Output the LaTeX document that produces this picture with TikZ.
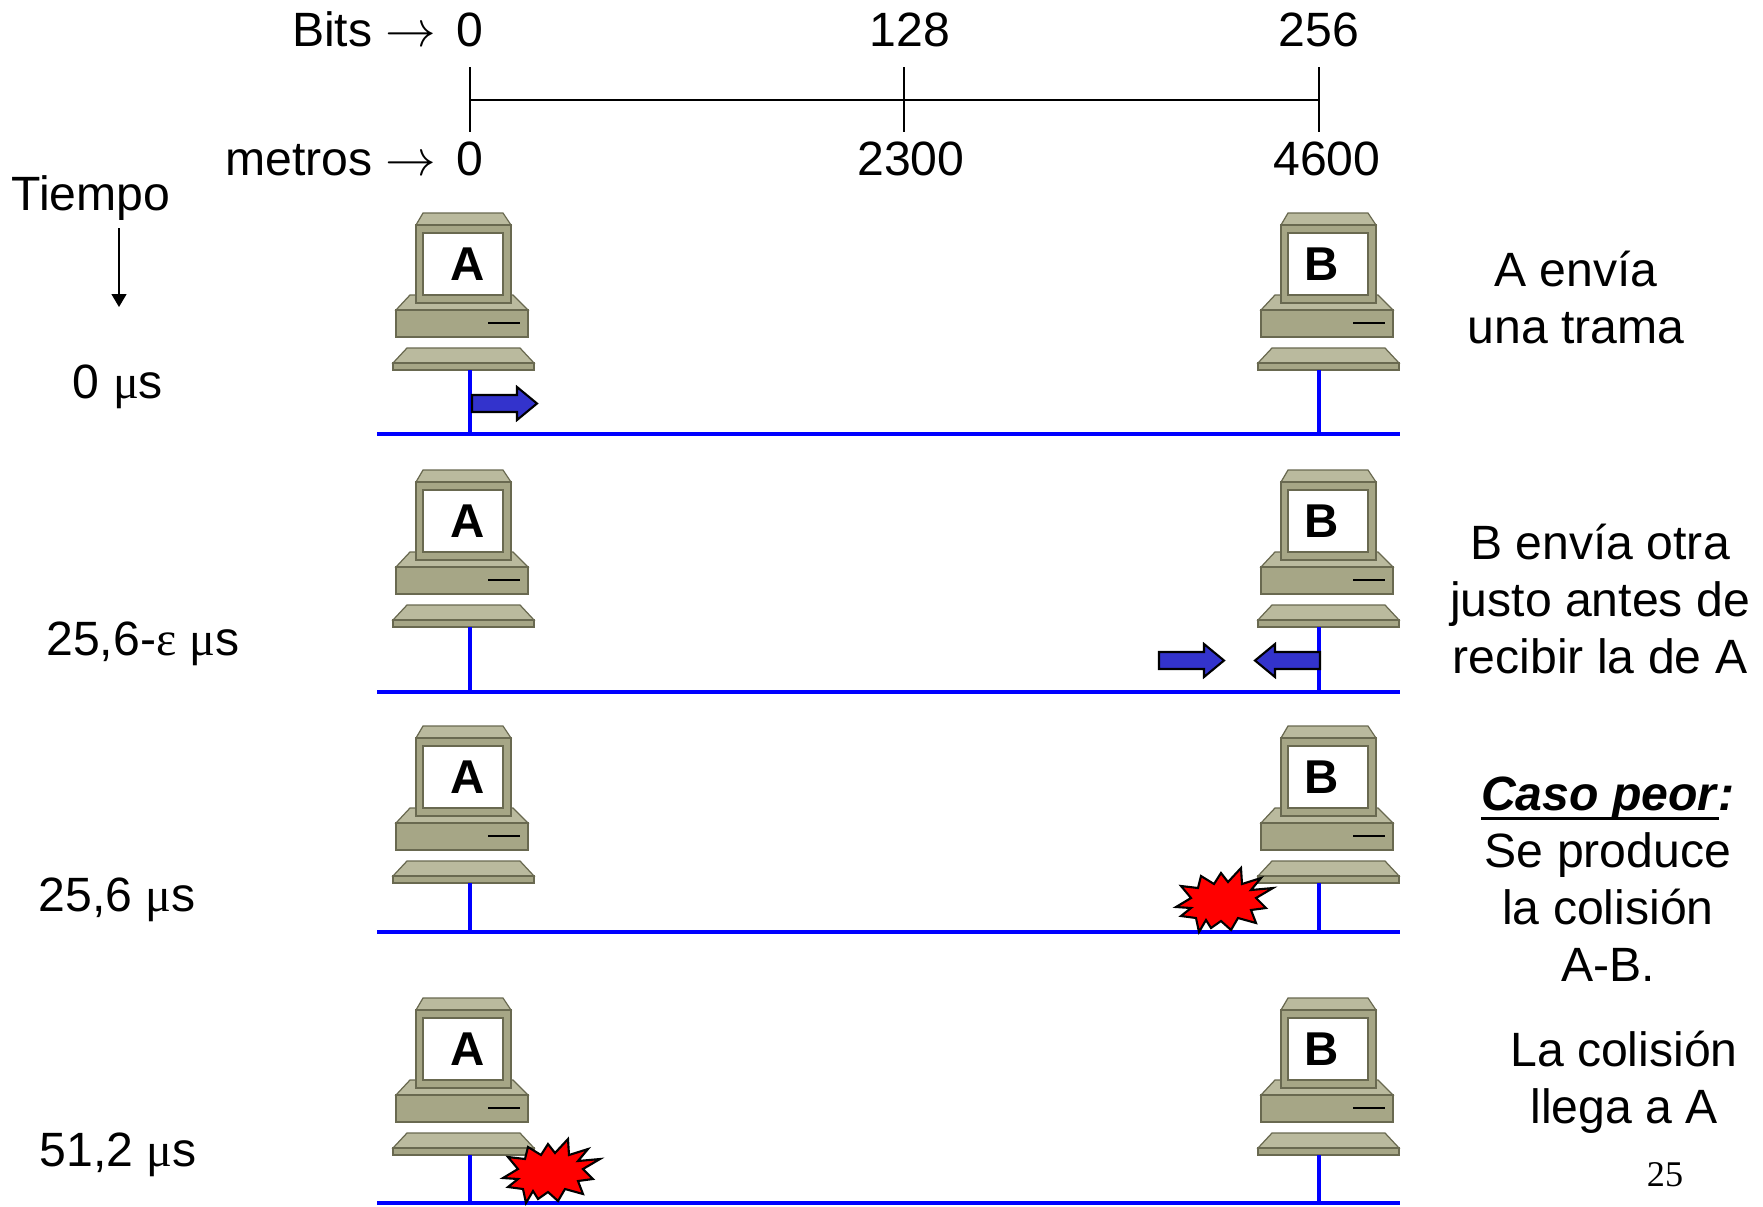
\documentclass[tikz,border=0pt]{standalone}
\usepackage{fontspec}
\setmainfont{Liberation Sans}
\newfontfamily\grk{Liberation Serif}
\usepackage{tikz}
\usetikzlibrary{arrows.meta}
\definecolor{busblue}{RGB}{0,0,255}
\definecolor{packetfill}{RGB}{51,51,204}
\definecolor{pcbody}{RGB}{166,166,134}
\definecolor{pctop}{RGB}{186,186,158}
\definecolor{pcedge}{RGB}{105,105,80}

% heavier underline for the heading on the right
\newcommand\heavyul[1]{\setbox0\hbox{#1}\rlap{\rule[-2.6pt]{\wd0}{0.85pt}}\box0}

\tikzset{
  txt/.style={font=\fontsize{13.7pt}{16.2pt}\selectfont, inner sep=0pt},
  bus/.style={busblue, line width=1.1pt},
  pcpart/.style={draw=pcedge, line width=0.35pt},
  packetshape/.style={draw=black, fill=packetfill, line width=0.6pt},
  burst/.style={draw=black, fill=red, line width=0.6pt, line join=miter},
  % workstation, origin at the centre of the screen; #1 = name, #2 = shift of the name
  pics/computer/.style n args={2}{code={
    \filldraw[pcpart, fill=pctop] (-0.53,0.31) -- (0.50,0.31) -- (0.65,0.46) -- (-0.67,0.46) -- cycle;
    \filldraw[pcpart, fill=pcbody] (-0.67,0.46) rectangle (0.65,0.73);
    \draw[line width=0.6pt] (0.25,0.59) -- (0.57,0.59);
    \filldraw[pcpart, fill=pctop] (-0.56,0.84) -- (0.57,0.84) -- (0.71,0.99) -- (-0.70,0.99) -- cycle;
    \filldraw[pcpart, fill=pcbody] (-0.70,0.99) rectangle (0.71,1.06);
    \filldraw[pcpart, fill=pctop] (-0.40,-0.51) -- (0.40,-0.51) -- (0.48,-0.39) -- (-0.47,-0.39) -- cycle;
    \filldraw[pcpart, fill=pcbody] (-0.47,-0.39) rectangle (0.48,0.39);
    \filldraw[pcpart, fill=white] (-0.40,-0.31) rectangle (0.40,0.31);
    \node[inner sep=0pt, font=\fontsize{13.5pt}{15pt}\selectfont\bfseries] (-lbl) at (#2,0) {#1};
    \coordinate (-port) at (0,1.06);
  }},
  % frame on the wire, pointing right
  pics/packet/.style={code={
    \draw[packetshape] (0,-0.085) -- (0.45,-0.085) -- (0.45,-0.165) -- (0.65,0)
      -- (0.45,0.165) -- (0.45,0.085) -- (0,0.085) -- cycle;
  }},
  pics/collision/.style={code={
    \draw[burst] (0.49,-0.14) -- (0.32,-0.04) -- (0.42,0.06) -- (0.27,0.08) -- (0.32,0.21)
      -- (0.14,0.16) -- (0.07,0.28) -- (-0.03,0.19) -- (-0.13,0.26) -- (-0.18,0.18)
      -- (-0.25,0.30) -- (-0.28,0.16) -- (-0.43,0.14) -- (-0.33,0.06) -- (-0.48,0.05)
      -- (-0.33,-0.04) -- (-0.43,-0.16) -- (-0.26,-0.14) -- (-0.23,-0.26) -- (-0.10,-0.18)
      -- (-0.03,-0.29) -- (0.04,-0.20) -- (0.17,-0.34) -- (0.18,-0.18) -- (0.37,-0.24)
      -- (0.27,-0.12) -- cycle;
  }}
}

\begin{document}
\begin{tikzpicture}[x=1cm, y=-1cm, >=Stealth]
  \useasboundingbox (0,0) rectangle (17.63,12.06);

  % scale: bits and metres
  \coordinate (t0) at (4.70,1.00);
  \coordinate (t128) at (9.04,1.00);
  \coordinate (t256) at (13.19,1.00);
  \draw[line width=0.5pt] (t0) -- (t256);
  \foreach \t in {t0,t128,t256}
    \draw[line width=0.5pt] (\t) ++(0,-0.33) -- ++(0,0.65);
  \node[txt, anchor=base east] (bits) at (4.37,0.46) {Bits $\rightarrow$};
  \node[txt, anchor=base] (b0) at (4.70,0.46) {0};
  \node[txt, anchor=base] (b128) at (9.10,0.46) {128};
  \node[txt, anchor=base] (b256) at (13.19,0.46) {256};
  \node[txt, anchor=base east] (metros) at (4.37,1.75) {metros $\rightarrow$};
  \node[txt, anchor=base] (m0) at (4.70,1.75) {0};
  \node[txt, anchor=base] (m2300) at (9.11,1.75) {2300};
  \node[txt, anchor=base] (m4600) at (13.27,1.75) {4600};

  % time axis
  \node[txt, anchor=base] (tiempo) at (0.91,2.10) {Tiempo};
  \coordinate (tdown) at (1.19,2.28);
  \coordinate (tend) at (1.19,3.07);
  \draw[-{Triangle[length=0.13cm,width=0.15cm]}, line width=0.4pt] (tdown) -- (tend);

  % one row per instant
  \foreach \r/\y/\b in {1/2.64/4.34, 2/5.21/6.92, 3/7.77/9.32, 4/10.49/12.03} {
    \pic (pcA\r) at (4.63,\y) {computer={A}{0.05}};
    \pic (pcB\r) at (13.28,\y) {computer={B}{-0.06}};
    \coordinate (busW\r) at (3.77,\b);
    \coordinate (busE\r) at (14.00,\b);
    \draw[bus] (pcA\r-port -| t0) -- (t0 |- busW\r);
    \draw[bus] (pcB\r-port -| t256) -- (t256 |- busW\r);
    \draw[bus] (busW\r) -- (busE\r);
  }

  \node[txt, anchor=base] (time1) at (1.18,3.98) {0 {\grk μ}s};
  \node[txt, anchor=base] (time2) at (1.43,6.55) {25,6-{\grk ε} {\grk μ}s};
  \node[txt, anchor=base] (time3) at (1.17,9.11) {25,6 {\grk μ}s};
  \node[txt, anchor=base] (time4) at (1.18,11.66) {51,2 {\grk μ}s};

  % frames and collisions
  \pic (sendA) at (4.72,4.035) {packet};
  \pic (frameA) at (11.59,6.605) {packet};
  \pic[xscale=-1] (sendB) at (13.20,6.605) {packet};
  \pic (hitB) at (12.24,9.02) {collision};
  \pic (hitA) at (5.51,11.73) {collision};

  % what happens in each row
  \node[txt, align=center] (step1) at (15.76,2.975) {A envía\\una trama};
  \node[txt, align=center] (step2) at (16.00,5.99) {B envía otra\\justo antes de\\recibir la de A};
  \node[txt, align=center] (step3) at (16.08,8.79)
    {\heavyul{\textbf{\textit{Caso peor}}}\textbf{\textit{:}}\\Se produce\\la colisión\\A-B.};
  \node[txt, align=center] (step4) at (16.24,10.825) {La colisión\\llega a A};

  \node[anchor=base, inner sep=0pt, font=\grk\fontsize{10.3pt}{12pt}\selectfont] (page) at (16.65,11.86) {25};
\end{tikzpicture}
\end{document}
